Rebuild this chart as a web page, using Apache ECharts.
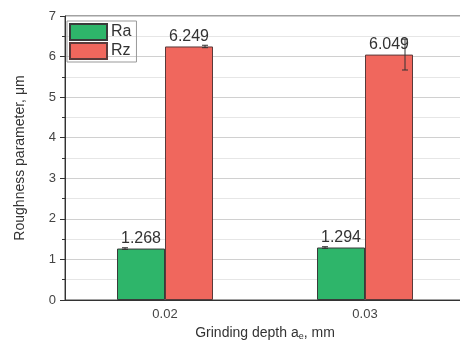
<!DOCTYPE html>
<html><head><meta charset="utf-8">
<script src="https://cdn.jsdelivr.net/npm/echarts@6/dist/echarts.min.js"></script>
<style>html,body{margin:0;padding:0;background:#fff}#c{width:460px;height:345px}</style>
</head><body><div id="c"></div>
<script>
const categories = ['0.02', '0.03'];
const raValues = [1.268, 1.294];
const rzValues = [6.249, 6.049];
const raErrors = [0.02, 0.02];
const rzErrors = [0.03, 0.38];
const yTicks = [0, 1, 2, 3, 4, 5, 6, 7];

const chart = echarts.init(document.getElementById('c'));
const font = 'Liberation Sans, Arial, sans-serif';

function errSeries(name, vals, errs, dx) {
  return {
    type: 'custom', name: name + ' err', silent: true, z: 5,
    data: vals.map((v, i) => [i, v, errs[i]]),
    renderItem: function (params, api) {
      const c = api.value(0), v = api.value(1), e = api.value(2);
      const p0 = api.coord([c, v + e]);
      const p1 = api.coord([c, v - e]);
      const x = p0[0] + dx, w = 3;
      const st = { stroke: '#333', lineWidth: 1 };
      return { type: 'group', children: [
        { type: 'line', shape: { x1: x, y1: p0[1], x2: x, y2: p1[1] }, style: st },
        { type: 'line', shape: { x1: x - w, y1: p0[1], x2: x + w, y2: p0[1] }, style: st },
        { type: 'line', shape: { x1: x - w, y1: p1[1], x2: x + w, y2: p1[1] }, style: st }
      ]};
    }
  };
}

chart.setOption({
  animation: false,
  textStyle: { fontFamily: font },
  grid: { left: 65, top: 16, width: 400, bottom: 45, outerBoundsMode: 'none', containLabel: false, show: true, borderColor: '#444', borderWidth: 1 },
  legend: {
    data: ['Ra', 'Rz'], orient: 'vertical', left: 67, top: 21,
    borderColor: '#999', borderWidth: 1, padding: [2, 5, 2, 2], itemGap: 1,
    itemWidth: 37, itemHeight: 16, icon: 'rect',
    textStyle: { fontSize: 16, color: '#333', fontFamily: font, padding: [0, 0, 0, -1] }
  },
  xAxis: [{
    type: 'category', data: categories,
    name: '{n|Grinding depth a}{s|e}{n|, mm}', nameLocation: 'middle', nameGap: 22,
    nameTextStyle: { rich: { n: { fontSize: 14, color: '#333', fontFamily: font }, s: { fontSize: 9, color: '#333', verticalAlign: 'bottom', padding: [8, 0, 0, 0], fontFamily: font } } },
    axisLine: { lineStyle: { color: '#333' } },
    axisTick: { alignWithLabel: true, length: 5, lineStyle: { color: '#333' } },
    axisLabel: { color: '#444', fontSize: 13, margin: 8 }
  }],
  yAxis: {
    type: 'value', min: 0, max: 7, interval: 1,
    name: 'Roughness parameter, μm', nameLocation: 'middle', nameGap: 38, nameRotate: 90,
    nameTextStyle: { fontSize: 14, color: '#333' },
    axisLine: { show: true, lineStyle: { color: '#333' } },
    axisTick: { show: true, length: 5, lineStyle: { color: '#333' } },
    minorTick: { show: true, splitNumber: 2, length: 3, lineStyle: { color: '#333' } },
    axisLabel: { color: '#444', fontSize: 13, margin: 9 },
    splitLine: { lineStyle: { color: '#d0d0d0' } },
    minorSplitLine: { show: true, lineStyle: { color: '#e6e6e6' } }
  },
  series: [
    { name: 'Ra', type: 'bar', data: raValues, barWidth: 48, barGap: '0%',
      itemStyle: { color: '#2eb56a', borderColor: '#3a3a3a', borderWidth: 1 },
      label: { show: true, position: 'top', distance: 2, fontSize: 16, color: '#333', formatter: p => p.value.toFixed(3) } },
    { name: 'Rz', type: 'bar', data: rzValues, barWidth: 48, barGap: '0%',
      itemStyle: { color: '#f0675d', borderColor: '#5a3a3a', borderWidth: 1 },
      label: { show: true, position: 'top', distance: 2, fontSize: 16, color: '#333', formatter: p => p.value.toFixed(3) } },
    errSeries('Ra', raValues, raErrors, -40),
    errSeries('Rz', rzValues, rzErrors, 40)
  ]
});
</script></body></html>
